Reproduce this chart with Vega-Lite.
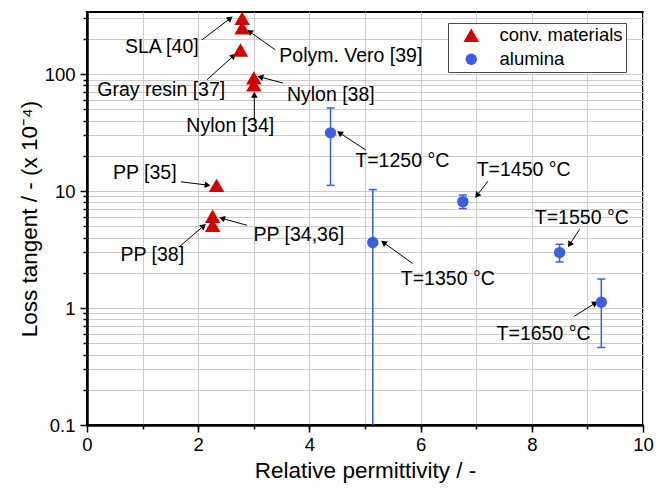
{
  "$schema": "https://vega.github.io/schema/vega-lite/v6.json",
  "width": 556,
  "height": 413,
  "autosize": {"type": "none"},
  "padding": {"left": 87, "top": 12, "right": 24, "bottom": 66},
  "background": "white",
  "config": {
    "view": {"stroke": "black", "strokeWidth": 2},
    "font": "Liberation Sans",
    "axis": {
      "labelFont": "Liberation Sans",
      "titleFont": "Liberation Sans",
      "labelColor": "black",
      "titleColor": "black",
      "titleFontWeight": "normal",
      "domainColor": "black",
      "domainWidth": 2,
      "tickColor": "black",
      "tickWidth": 1.5,
      "gridColor": "#cccccc",
      "gridWidth": 1,
      "gridOpacity": 1,
      "labelFlush": false
    }
  },
  "datasets": {
    "pts": [
      {"name": "SLA [40]", "series": "conv. materials", "x": 2.79, "y": 300},
      {"name": "Polym. Vero [39]", "series": "conv. materials", "x": 2.79, "y": 249},
      {"name": "Gray resin [37]", "series": "conv. materials", "x": 2.76, "y": 161},
      {"name": "Nylon [38]", "series": "conv. materials", "x": 3.0, "y": 93},
      {"name": "Nylon [34]", "series": "conv. materials", "x": 3.0, "y": 81},
      {"name": "PP [35]", "series": "conv. materials", "x": 2.33, "y": 11.2},
      {"name": "PP [34,36]", "series": "conv. materials", "x": 2.26, "y": 6.1},
      {"name": "PP [38]", "series": "conv. materials", "x": 2.26, "y": 5.1},
      {"name": "T=1250 °C", "series": "alumina", "x": 4.38, "y": 31.5, "lo": 11.2, "hi": 51.4},
      {"name": "T=1350 °C", "series": "alumina", "x": 5.14, "y": 3.63, "lo": 0.01, "hi": 10.3},
      {"name": "T=1450 °C", "series": "alumina", "x": 6.76, "y": 8.13, "lo": 7.1, "hi": 9.25},
      {"name": "T=1550 °C", "series": "alumina", "x": 8.5, "y": 2.98, "lo": 2.48, "hi": 3.51},
      {"name": "T=1650 °C", "series": "alumina", "x": 9.25, "y": 1.12, "lo": 0.46, "hi": 1.77}
    ],
    "notes": [
      {"label": "SLA [40]", "tx": 1.345, "ty": 171, "ax": 2.068, "ay": 196.5, "hx": 2.577, "hy": 300},
      {"label": "Polym. Vero [39]", "tx": 4.745, "ty": 143.5, "ax": 3.387, "ay": 161.4, "hx": 2.924, "hy": 231},
      {"label": "Gray resin [37]", "tx": 1.336, "ty": 72.6, "ax": 2.158, "ay": 89.6, "hx": 2.637, "hy": 143.5},
      {"label": "Nylon [38]", "tx": 4.385, "ty": 66.7, "ax": 3.525, "ay": 83.9, "hx": 3.117, "hy": 94.5},
      {"label": "Nylon [34]", "tx": 2.577, "ty": 35.8, "ax": 3.009, "ay": 39.5, "hx": 3.009, "hy": 66.7},
      {"label": "PP [35]", "tx": 1.04, "ty": 14.35, "ax": 1.691, "ay": 12.0, "hx": 2.169, "hy": 11.25},
      {"label": "PP [34,36]", "tx": 3.81, "ty": 4.19, "ax": 2.878, "ay": 5.1, "hx": 2.428, "hy": 5.85},
      {"label": "PP [38]", "tx": 1.174, "ty": 2.83, "ax": 1.665, "ay": 3.36, "hx": 2.097, "hy": 5.03},
      {"label": "T=1250 °C", "tx": 5.671, "ty": 18.0, "ax": 5.018, "ay": 22.4, "hx": 4.543, "hy": 31.5},
      {"label": "T=1350 °C", "tx": 6.489, "ty": 1.766, "ax": 5.856, "ay": 2.405, "hx": 5.334, "hy": 3.63},
      {"label": "T=1450 °C", "tx": 7.853, "ty": 15.3, "ax": 7.212, "ay": 12.17, "hx": 7.014, "hy": 9.19},
      {"label": "T=1550 °C", "tx": 8.899, "ty": 5.85, "ax": 8.86, "ay": 4.716, "hx": 8.68, "hy": 3.49},
      {"label": "T=1650 °C", "tx": 8.212, "ty": 0.6, "ax": 8.764, "ay": 0.85, "hx": 9.142, "hy": 1.103}
    ]
  },
  "resolve": {"axis": {"x": "independent", "y": "independent"}},
  "layer": [
    {
      "data": {"name": "notes"},
      "mark": {"type": "rule", "color": "black", "strokeWidth": 1},
      "encoding": {
        "x": {"field": "ax", "type": "quantitative",
              "scale": {"domain": [0, 10], "nice": false, "zero": false},
              "axis": {"orient": "bottom", "values": [1, 2, 3, 4, 5, 6, 7, 8, 9], "labels": false, "title": null, "tickSize": 4, "grid": true, "domain": true}},
        "y": {"field": "ay", "type": "quantitative",
              "scale": {"type": "log", "domain": [0.1, 340], "nice": false},
              "axis": {"orient": "left", "values": [0.2, 0.3, 0.4, 0.5, 0.6, 0.7, 0.8, 0.9, 2, 3, 4, 5, 6, 7, 8, 9, 20, 30, 40, 50, 60, 70, 80, 90, 200, 300], "labels": false, "title": null, "tickSize": 4, "grid": true, "domain": true}},
        "x2": {"field": "hx"},
        "y2": {"field": "hy"}
      }
    },
    {
      "data": {"name": "notes"},
      "mark": {"type": "point", "shape": "triangle-up", "filled": true, "color": "black", "size": 45, "opacity": 1, "strokeWidth": 0},
      "encoding": {
        "x": {"field": "hx", "type": "quantitative", "axis": null},
        "y": {"field": "hy", "type": "quantitative", "axis": null},
        "angle": {"field": "label", "type": "ordinal",
                  "scale": {"type": "ordinal",
                            "domain": ["SLA [40]", "Polym. Vero [39]", "Gray resin [37]", "Nylon [38]", "Nylon [34]", "PP [35]", "PP [34,36]", "PP [38]", "T=1250 °C", "T=1350 °C", "T=1450 °C", "T=1550 °C", "T=1650 °C"],
                            "range": [52.5, 305.5, 48, 284.8, 0, 97.3, 285.6, 49.4, 303.4, 305.9, 217.6, 213.2, 57.7]},
                  "legend": null}
      }
    },
    {
      "data": {"name": "notes"},
      "mark": {"type": "text", "font": "Liberation Sans", "fontSize": 19.5, "color": "black", "align": "center", "baseline": "middle"},
      "encoding": {
        "x": {"field": "tx", "type": "quantitative", "axis": null},
        "y": {"field": "ty", "type": "quantitative", "axis": null},
        "text": {"field": "label"}
      }
    },
    {
      "data": {"name": "pts"},
      "transform": [{"filter": "datum.series === 'alumina'"}],
      "mark": {"type": "rule", "color": "#3a5fe6", "strokeWidth": 1.5, "clip": true},
      "encoding": {
        "x": {"field": "x", "type": "quantitative", "axis": null},
        "y": {"field": "lo", "type": "quantitative", "axis": null},
        "y2": {"field": "hi"}
      }
    },
    {
      "data": {"name": "pts"},
      "transform": [{"filter": "datum.series === 'alumina'"}],
      "mark": {"type": "tick", "orient": "horizontal", "color": "#3a5fe6", "size": 8, "thickness": 1.5, "opacity": 1, "clip": true},
      "encoding": {
        "x": {"field": "x", "type": "quantitative", "axis": null},
        "y": {"field": "hi", "type": "quantitative", "axis": null}
      }
    },
    {
      "data": {"name": "pts"},
      "transform": [{"filter": "datum.series === 'alumina'"}],
      "mark": {"type": "tick", "orient": "horizontal", "color": "#3a5fe6", "size": 8, "thickness": 1.5, "opacity": 1, "clip": true},
      "encoding": {
        "x": {"field": "x", "type": "quantitative", "axis": null},
        "y": {"field": "lo", "type": "quantitative", "axis": null}
      }
    },
    {
      "data": {"name": "pts"},
      "mark": {"type": "point", "filled": true, "opacity": 1, "strokeWidth": 0},
      "encoding": {
        "x": {"field": "x", "type": "quantitative",
              "scale": {"domain": [0, 10], "nice": false, "zero": false},
              "axis": {"orient": "bottom", "values": [0, 2, 4, 6, 8, 10], "title": "Relative permittivity / -", "tickSize": 7, "labelFontSize": 18.5, "labelPadding": 3, "titleFontSize": 22.5, "titlePadding": 6, "grid": true, "domain": true, "labelFlush": false}},
        "y": {"field": "y", "type": "quantitative",
              "scale": {"type": "log", "domain": [0.1, 340], "nice": false},
              "axis": {"orient": "left", "values": [0.1, 1, 10, 100], "title": "Loss tangent / - (x 10⁻⁴)", "tickSize": 7, "labelFontSize": 18.5, "labelPadding": 5, "titleFontSize": 22.5, "titlePadding": 3, "grid": true, "domain": true, "format": "~g", "labelFlush": false}},
        "color": {"field": "series", "type": "nominal",
                  "scale": {"domain": ["conv. materials", "alumina"], "range": ["#d40000", "#3b5ee6"]},
                  "legend": {"title": null, "orient": "none", "legendX": 361, "legendY": 11, "strokeColor": "#4d4d4d", "fillColor": "white", "padding": 3, "symbolOffset": 11, "labelOffset": 19, "labelFontSize": 18.5, "labelFont": "Liberation Sans", "labelColor": "black", "rowPadding": 5, "symbolStrokeWidth": 0}},
        "shape": {"field": "series", "type": "nominal",
                  "scale": {"domain": ["conv. materials", "alumina"], "range": ["triangle-up", "circle"]}},
        "size": {"field": "series", "type": "nominal",
                 "scale": {"type": "ordinal", "domain": ["conv. materials", "alumina"], "range": [240, 130]}}
      }
    }
  ]
}
